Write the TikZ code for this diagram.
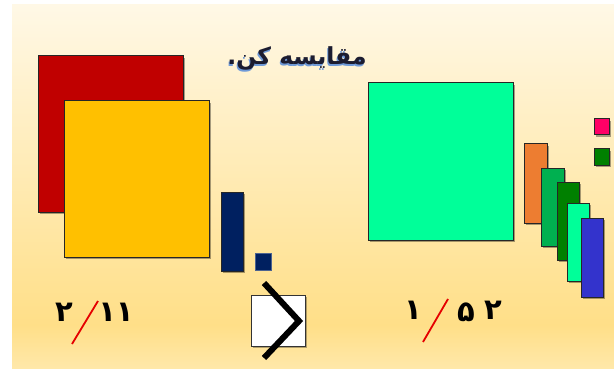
\documentclass[tikz,border=0pt]{standalone}
\usepackage{fontspec}
\usetikzlibrary{shadows}
\TeXXeTstate=1
\newfontfamily\arabicfont[Script=Arabic]{DejaVu Sans}
\definecolor{bgtop}{HTML}{FFF8E6}
\definecolor{bgmid}{HTML}{FFDF88}
\definecolor{bgbot}{HTML}{FFE8AA}
\definecolor{cred}{HTML}{C00000}
\definecolor{cyel}{HTML}{FFC000}
\definecolor{cnavy}{HTML}{002060}
\definecolor{cmint}{HTML}{00FF99}
\definecolor{corange}{HTML}{ED7D31}
\definecolor{cgreen}{HTML}{00B050}
\definecolor{cdgreen}{HTML}{008000}
\definecolor{cblue}{HTML}{3333CC}
\definecolor{cpink}{HTML}{FF0066}
\definecolor{titleblue}{HTML}{6F9AD8}
\definecolor{titledark}{HTML}{1C1C30}
\tikzset{
  sq/.style={draw=black!85, line width=1pt,
    drop shadow={shadow xshift=1.6pt, shadow yshift=-1.6pt, opacity=0.35, fill=black}},
  digit/.style={font=\arabicfont\bfseries\fontsize{29}{32}\selectfont, inner sep=0pt, text=black},
  slash/.style={draw=red!90!black, line width=1.8pt},
}
\begin{document}
\begin{tikzpicture}[x=1pt,y=-1pt]
\useasboundingbox (0,0) rectangle (614,369);
% background
\shade[top color=bgtop, bottom color=bgmid] (12,5) rectangle (614,325);
\shade[top color=bgmid, bottom color=bgbot] (12,325) rectangle (614,369);
% title
\node[font=\arabicfont\bfseries\fontsize{23.5}{26}\selectfont, text=titleblue] (titleshadow) at (296,60) {\beginR مقایسه کن.\endR};
\node[font=\arabicfont\bfseries\fontsize{23.5}{26}\selectfont, text=titledark] (title) at (297,58.5) {\beginR مقایسه کن.\endR};
% left group
\path[sq, fill=cred] (38,56) rectangle (183,212);
\path[sq, fill=cyel] (64,101) rectangle (209,257);
\path[sq, fill=cnavy] (221,192) rectangle (243,271);
\path[draw=cnavy!70, line width=0.6pt, fill=cnavy] (255,253) rectangle (271,270);
% right group
\path[sq, fill=cmint] (368,83) rectangle (513,240);
\path[sq, fill=corange] (524,144) rectangle (547,223);
\path[sq, fill=cgreen] (541,168) rectangle (564,246);
\path[sq, fill=cdgreen] (557,182) rectangle (579,260);
\path[sq, fill=cmint] (567,203) rectangle (589,281);
\path[sq, fill=cblue] (581,218) rectangle (603,297);
\path[sq, fill=cpink] (594,119) rectangle (609,135);
\path[sq, fill=cdgreen] (594,149) rectangle (609,165);
% left fraction
\node[digit] (ltwo) at (64,312) {۲};
\node[digit] (leleven) at (116,312) {۱۱};
\coordinate (ls1) at (72,344);
\coordinate (ls2) at (98,301);
\draw[slash] (ls1) -- (ls2);
% right fraction
\node[digit] (rone) at (413,310) {۱};
\node[digit] (rfive) at (466,312) {۵};
\node[digit] (rtwo) at (493,310) {۲};
\coordinate (rs1) at (423,342);
\coordinate (rs2) at (448,299);
\draw[slash] (rs1) -- (rs2);
% comparison box
\node[draw=black!80, line width=1pt, fill=white, minimum width=54pt, minimum height=51pt, inner sep=0pt,
  drop shadow={shadow xshift=1.2pt, shadow yshift=-1.2pt, opacity=0.3, fill=black}] (cmpbox) at (278.5,321) {};
\coordinate (g1) at (264,283);
\coordinate (g2) at (299,321);
\coordinate (g3) at (264,358);
\draw[line width=6pt, black, line join=miter] (g1) -- (g2) -- (g3);
\end{tikzpicture}
\end{document}
